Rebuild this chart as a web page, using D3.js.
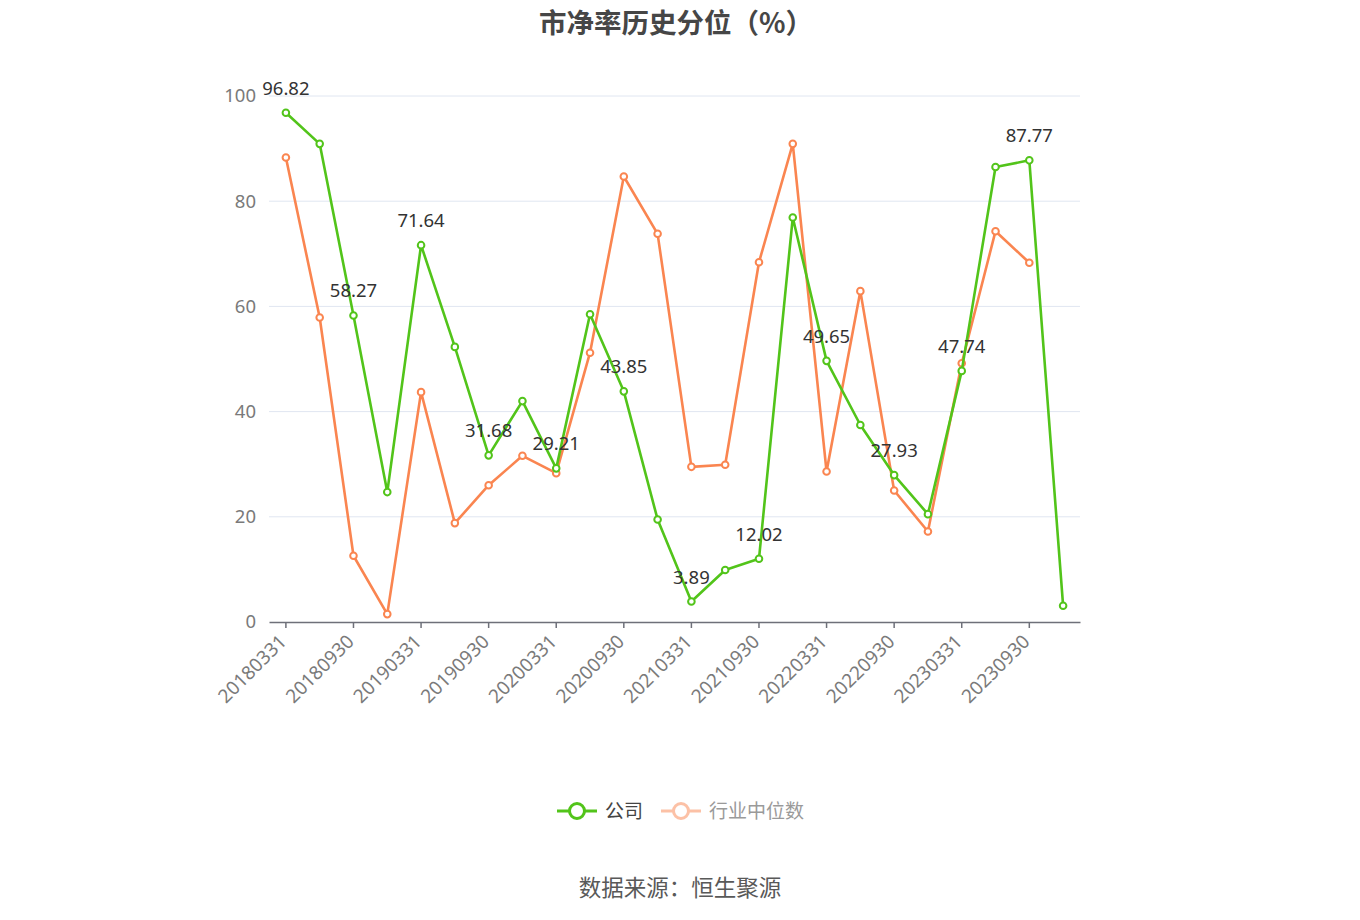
<!DOCTYPE html>
<html><head><meta charset="utf-8">
<script src="https://cdn.jsdelivr.net/npm/d3@7/dist/d3.min.js"></script>
<style>
html,body{margin:0;padding:0;background:#fff;}
svg{display:block;font-family:"Noto Sans","Noto Sans CJK SC",sans-serif;}
</style></head>
<body><svg id="chart" width="1360" height="920"></svg>
<script>
const categories = ["20180331","20180630","20180930","20181231","20190331","20190630","20190930","20191231",
"20200331","20200630","20200930","20201231","20210331","20210630","20210930","20211231",
"20220331","20220630","20220930","20221231","20230331","20230630","20230930","20231231"];
const companyValues = [96.82,90.9,58.27,24.7,71.64,52.3,31.68,42.0,29.21,58.5,43.85,19.5,3.89,9.9,12.02,76.9,49.65,37.45,27.93,20.5,47.74,86.5,87.77,3.1];
const industryValues = [88.3,57.9,12.6,1.5,43.7,18.8,26.0,31.6,28.3,51.2,84.7,73.8,29.5,29.9,68.4,90.9,28.6,62.9,25.0,17.2,49.2,74.3,68.3,null];
const yTicks = [0,20,40,60,80,100];
const seriesNames = ["公司","行业中位数"];
const titleText = "市净率历史分位（%）";
const sourceText = "数据来源：恒生聚源";

const green = "#52c41a", orange = "#fa8550";
const svg = d3.select("#chart");
const L = 269, R = 1080, T = 96, B = 622;
const x = d3.scaleBand().domain(categories).range([L, R]).padding(0);
const y = d3.scaleLinear().domain([0, 100]).range([B, T]);
const cx = d => x(d) + x.bandwidth() / 2;

// title
svg.append("text").attr("x", 676).attr("y", 33).attr("text-anchor", "middle")
  .attr("font-size", 27.5).attr("font-weight", "bold").attr("fill", "#464646")
  .attr("font-family", "'Noto Sans CJK SC',sans-serif").text(titleText);

// grid
svg.append("g").selectAll("line").data(yTicks.filter(t => t > 0)).join("line")
  .attr("x1", L).attr("x2", R).attr("y1", d => y(d)).attr("y2", d => y(d))
  .attr("stroke", "#e0e6f1").attr("stroke-width", 1);

// y axis
const yAxis = svg.append("g").attr("transform", `translate(${L},0)`)
  .call(d3.axisLeft(y).tickValues(yTicks).tickSize(0).tickPadding(13));
yAxis.select(".domain").remove();
yAxis.selectAll("text").attr("font-size", 18.5).attr("fill", "#7a7a7a").attr("font-family", "'Noto Sans',sans-serif");

// x axis
const xAxis = svg.append("g").attr("transform", `translate(0,${B})`)
  .call(d3.axisBottom(x).tickValues(categories.filter((d, i) => i % 2 === 0)).tickSize(6).tickSizeOuter(0).tickPadding(6));
xAxis.select(".domain").attr("stroke", "#6e7079").attr("stroke-width", 1.5);
xAxis.selectAll(".tick line").attr("stroke", "#6e7079").attr("stroke-width", 1.5);
xAxis.selectAll("text").attr("font-size", 19).attr("fill", "#7a7a7a")
  .attr("font-family", "'Noto Sans',sans-serif")
  .attr("text-anchor", "end").attr("y", 0).attr("dy", "0.35em")
  .attr("transform", "translate(-3,16) rotate(-45)");

function drawSeries(vals, color) {
  const data = categories.map((c, i) => ({ c, v: vals[i], i })).filter(d => d.v !== null);
  const line = d3.line().x(d => cx(d.c)).y(d => y(d.v));
  svg.append("path").datum(data).attr("d", line).attr("fill", "none")
    .attr("stroke", color).attr("stroke-width", 2.6).attr("stroke-linejoin", "round");
  svg.append("g").selectAll("circle").data(data).join("circle")
    .attr("cx", d => cx(d.c)).attr("cy", d => y(d.v)).attr("r", 3.3)
    .attr("fill", "#fff").attr("stroke", color).attr("stroke-width", 2);
  return data;
}
drawSeries(industryValues, orange);
const gData = drawSeries(companyValues, green);

// labels on company series (every other point)
svg.append("g").selectAll("text").data(gData.filter(d => d.i % 2 === 0)).join("text")
  .attr("x", d => cx(d.c)).attr("y", d => y(d.v) - 18).attr("text-anchor", "middle")
  .attr("font-size", 18.5).attr("fill", "#333").attr("font-family", "'Noto Sans',sans-serif")
  .text(d => d.v.toFixed(2));

// legend
const lg = svg.append("g");
const items = [{ name: seriesNames[0], color: green, x: 557, op: 1, tc: "#444" },
               { name: seriesNames[1], color: orange, x: 661, op: 0.5, tc: "#9a9a9a" }];
items.forEach(it => {
  const g = lg.append("g").attr("opacity", it.op);
  g.append("line").attr("x1", it.x).attr("x2", it.x + 40).attr("y1", 811).attr("y2", 811)
    .attr("stroke", it.color).attr("stroke-width", 3);
  g.append("circle").attr("cx", it.x + 20).attr("cy", 811).attr("r", 7.5)
    .attr("fill", "#fff").attr("stroke", it.color).attr("stroke-width", 3);
  lg.append("text").attr("x", it.x + 48).attr("y", 818).attr("font-size", 19)
    .attr("fill", it.tc).attr("font-family", "'Noto Sans CJK SC',sans-serif").text(it.name);
});

// source
svg.append("text").attr("x", 680).attr("y", 896).attr("text-anchor", "middle")
  .attr("font-size", 22.5).attr("fill", "#595959")
  .attr("font-family", "'Noto Sans CJK SC',sans-serif").text(sourceText);
</script></body></html>
